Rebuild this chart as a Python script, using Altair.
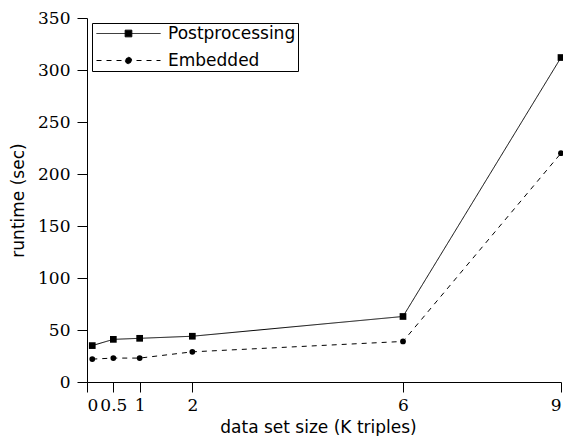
import altair as alt
import pandas as pd

sizes = [0.1, 0.5, 1, 2, 6, 9]
postprocessing = [35, 41, 42, 44, 63, 312]
embedded = [22, 23, 23, 29, 39, 220]
series_names = ["Postprocessing", "Embedded"]
x_ticks = [0, 0.5, 1, 2, 6, 9]
y_ticks = [0, 50, 100, 150, 200, 250, 300, 350]

rows = []
for s, v in zip(sizes, postprocessing):
    rows.append({"size": s, "runtime": v, "series": series_names[0]})
for s, v in zip(sizes, embedded):
    rows.append({"size": s, "runtime": v, "series": series_names[1]})
df = pd.DataFrame(rows)

W, H = 474, 364

xenc = alt.X("size:Q", scale=alt.Scale(domain=[0, 9], nice=False, zero=False),
             axis=alt.Axis(values=x_ticks, format="~g", title="data set size (K triples)",
                           titleX=231, titleY=50, titleBaseline="alphabetic", titleAlign="center",
                           labelPadding=5, labelBaseline="top"))
yenc = alt.Y("runtime:Q", scale=alt.Scale(domain=[0, 350], nice=False),
             axis=alt.Axis(values=y_ticks, title="runtime (sec)", titleX=-64, titleY=H / 2,
                           titleAngle=270, titleBaseline="alphabetic", titleAlign="center",
                           labelPadding=7))

dash_scale = alt.Scale(domain=series_names, range=[[1, 0], [5, 5]])

lines = alt.Chart(df).mark_line(color="black", strokeWidth=1).encode(
    x=xenc, y=yenc,
    strokeDash=alt.StrokeDash("series:N", scale=dash_scale, legend=None),
    detail="series:N",
)

points = alt.Chart(df).mark_point(filled=True, color="black", opacity=1).encode(
    x=xenc, y=yenc,
    shape=alt.Shape("series:N", scale=alt.Scale(domain=series_names, range=["square", "circle"]), legend=None),
    size=alt.Size("series:N", scale=alt.Scale(domain=series_names, range=[45, 33]), legend=None),
)

# legend glyphs: a 64px line with the marker in its middle (unit = 5px at size 100)
sq_path = "M-6.4,0H6.4M-0.67,-0.67H0.67V0.67H-0.67Z"
ci_path = "M-6.4,0H6.4M-0.64,0A0.64,0.64,0,1,0,0.64,0A0.64,0.64,0,1,0,-0.64,0Z"

legend_def = alt.Legend(title=None, orient="top-left", offset=5, padding=2, symbolOffset=26,
                        rowPadding=9, labelOffset=31, labelFont="DejaVu Sans", labelFontSize=17,
                        labelColor="black", strokeColor="black", fillColor="white",
                        symbolSize=100, symbolStrokeWidth=1)

legend_layer = alt.Chart(df).transform_filter("false").mark_point(
    filled=True, fill="black", stroke="black", strokeWidth=1, size=100, opacity=1
).encode(
    shape=alt.Shape("series:N", scale=alt.Scale(domain=series_names, range=[sq_path, ci_path]), legend=legend_def),
    strokeDash=alt.StrokeDash("series:N", scale=alt.Scale(domain=series_names, range=[[1, 0], [5, 5]]), legend=legend_def),
)

chart = alt.layer(lines, points, legend_layer).resolve_scale(
    shape="independent", strokeDash="independent", size="independent"
).properties(
    width=W, height=H,
    padding={"left": 79, "top": 10, "right": 2, "bottom": 54},
    autosize=alt.AutoSizeParams(type="none"),
).configure_view(stroke=None).configure_axis(
    domainColor="black", tickColor="black", labelColor="black", titleColor="black",
    labelFont="DejaVu Serif", labelFontSize=17, titleFont="DejaVu Sans", titleFontSize=17,
    titleFontWeight="normal", grid=False, tickSize=10, domainWidth=1, tickWidth=1,
)

chart.save("out.html", embed_options={"renderer": "svg", "actions": False})
